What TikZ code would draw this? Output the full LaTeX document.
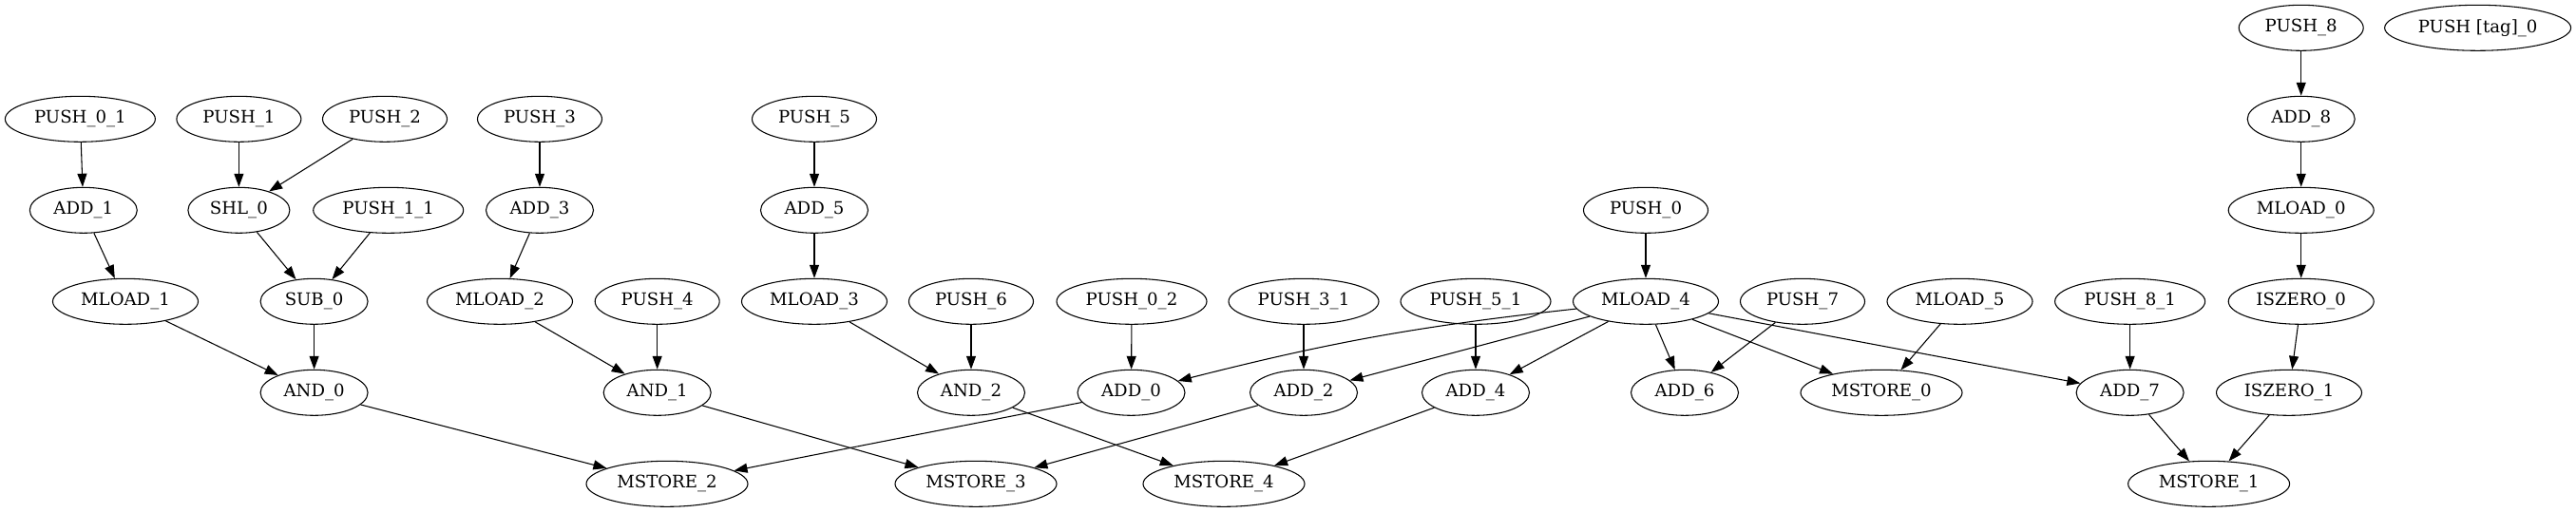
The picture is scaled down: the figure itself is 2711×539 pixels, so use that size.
\documentclass[tikz,border=0pt]{standalone}
\usepackage{fontspec}
\setmainfont{DejaVu Serif}
\usetikzlibrary{shapes.geometric,arrows.meta}
\tikzset{
  nd/.style={draw, ellipse, inner sep=0pt, minimum height=36pt, minimum width=#1*0.75pt,
    font=\fontsize{13.6pt}{16pt}\selectfont, line width=0.8pt},
  pA/.style={nd=131}, pB/.style={nd=158}, ad/.style={nd=113}, sh/.style={nd=107},
  ml/.style={nd=153}, ms/.style={nd=170}, tg/.style={nd=196},
  arr/.style={-{Triangle[length=10.5pt,width=7.5pt]}, line width=0.8pt}
}
\begin{document}
\begin{tikzpicture}[x=0.75pt,y=-0.75pt]
\useasboundingbox (0,0) rectangle (2711,539);
% rank 1
\node[pA] (push8) at (2421.7,29.3) {PUSH\_8};
\node[tg] (pushtag) at (2607.6,29.3) {PUSH [tag]\_0};
% rank 2
\node[pB] (push01) at (84.4,125.3) {PUSH\_0\_1};
\node[pA] (push1) at (251.4,125.3) {PUSH\_1};
\node[pA] (push2) at (405,125.3) {PUSH\_2};
\node[pA] (push3) at (568,125.3) {PUSH\_3};
\node[pA] (push5) at (857,125.3) {PUSH\_5};
\node[ad] (add8) at (2421.7,125.3) {ADD\_8};
% rank 3
\node[ad] (add1) at (87.8,221.3) {ADD\_1};
\node[sh] (shl0) at (251.4,221.3) {SHL\_0};
\node[pB] (push11) at (408.7,221.3) {PUSH\_1\_1};
\node[ad] (add3) at (568,221.3) {ADD\_3};
\node[ad] (add5) at (857,221.3) {ADD\_5};
\node[pA] (push0) at (1732,221.3) {PUSH\_0};
\node[ml] (mload0) at (2421.7,221.3) {MLOAD\_0};
% rank 4
\node[ml] (mload1) at (132,317.3) {MLOAD\_1};
\node[ad] (sub0) at (330.6,317.3) {SUB\_0};
\node[ml] (mload2) at (526,317.3) {MLOAD\_2};
\node[pA] (push4) at (691.7,317.3) {PUSH\_4};
\node[ml] (mload3) at (857,317.3) {MLOAD\_3};
\node[pA] (push6) at (1022,317.3) {PUSH\_6};
\node[pB] (push02) at (1191,317.3) {PUSH\_0\_2};
\node[pB] (push31) at (1372,317.3) {PUSH\_3\_1};
\node[pB] (push51) at (1553,317.3) {PUSH\_5\_1};
\node[ml] (mload4) at (1732,317.3) {MLOAD\_4};
\node[pA] (push7) at (1897,317.3) {PUSH\_7};
\node[ml] (mload5) at (2062.5,317.3) {MLOAD\_5};
\node[pB] (push81) at (2241.6,317.3) {PUSH\_8\_1};
\node[ml] (iszero0) at (2421.7,317.3) {ISZERO\_0};
% rank 5
\node[ad] (and0) at (330.6,413.3) {AND\_0};
\node[ad] (and1) at (691.7,413.3) {AND\_1};
\node[ad] (and2) at (1022,413.3) {AND\_2};
\node[ad] (add0) at (1190.5,413.3) {ADD\_0};
\node[ad] (add2) at (1372,413.3) {ADD\_2};
\node[ad] (add4) at (1553,413.3) {ADD\_4};
\node[ad] (add6) at (1773,413.3) {ADD\_6};
\node[ms] (mstore0) at (1980,413.3) {MSTORE\_0};
\node[ad] (add7) at (2241.6,413.3) {ADD\_7};
\node[ml] (iszero1) at (2409,413.3) {ISZERO\_1};
% rank 6
\node[ms] (mstore2) at (702,509.3) {MSTORE\_2};
\node[ms] (mstore3) at (1027,509.3) {MSTORE\_3};
\node[ms] (mstore4) at (1288,509.3) {MSTORE\_4};
\node[ms] (mstore1) at (2324.6,509.3) {MSTORE\_1};
% edges
\draw[arr] (push8) -- (add8);
\draw[arr] (add8) -- (mload0);
\draw[arr] (mload0) -- (iszero0);
\draw[arr] (iszero0) -- (iszero1);
\draw[arr] (iszero1) -- (mstore1);
\draw[arr] (add7) -- (mstore1);
\draw[arr] (push81) -- (add7);
\draw[arr] (push01) -- (add1);
\draw[arr] (add1) -- (mload1);
\draw[arr] (mload1) -- (and0);
\draw[arr] (push1) -- (shl0);
\draw[arr] (push2) -- (shl0);
\draw[arr] (shl0) -- (sub0);
\draw[arr] (push11) -- (sub0);
\draw[arr] (sub0) -- (and0);
\draw[arr] (and0) -- (mstore2);
\draw[arr] (push3) -- (add3);
\draw[arr] (add3) -- (mload2);
\draw[arr] (mload2) -- (and1);
\draw[arr] (push4) -- (and1);
\draw[arr] (and1) -- (mstore3);
\draw[arr] (push5) -- (add5);
\draw[arr] (add5) -- (mload3);
\draw[arr] (mload3) -- (and2);
\draw[arr] (push6) -- (and2);
\draw[arr] (and2) -- (mstore4);
\draw[arr] (push02) -- (add0);
\draw[arr] (add0) -- (mstore2);
\draw[arr] (push31) -- (add2);
\draw[arr] (add2) -- (mstore3);
\draw[arr] (push51) -- (add4);
\draw[arr] (add4) -- (mstore4);
\draw[arr] (push0) -- (mload4);
\draw[arr] (mload4) to[bend right=4] (add0);
\draw[arr] (mload4) -- (add2);
\draw[arr] (mload4) -- (add4);
\draw[arr] (mload4) -- (add6);
\draw[arr] (mload4) -- (mstore0);
\draw[arr] (mload4) -- (add7);
\draw[arr] (push7) -- (add6);
\draw[arr] (mload5) -- (mstore0);
\end{tikzpicture}
\end{document}
